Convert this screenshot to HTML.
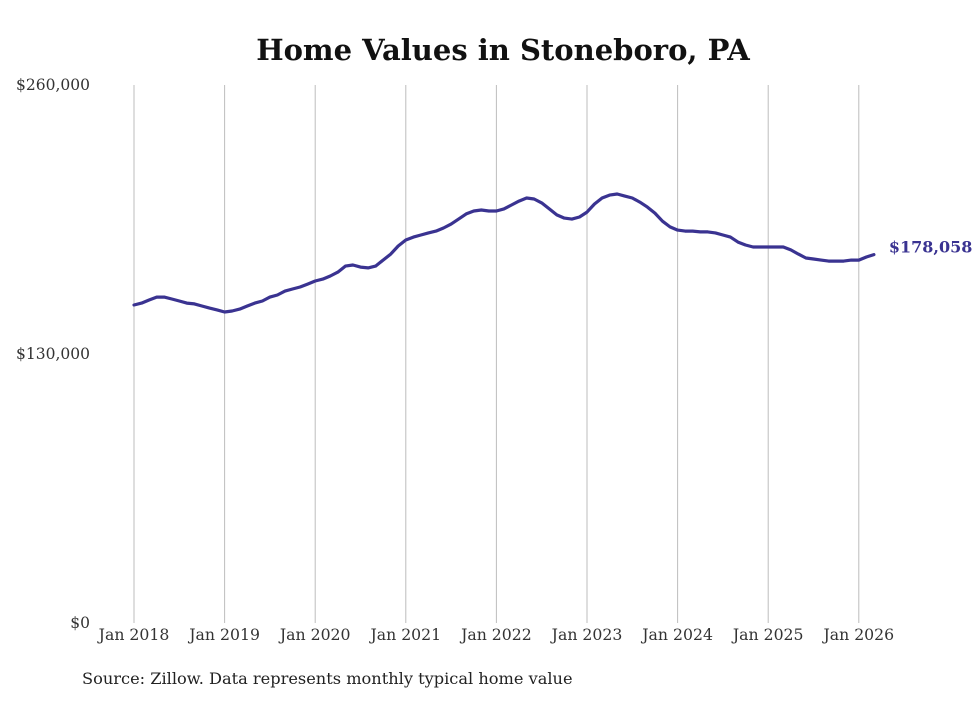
<!DOCTYPE html>
<html><head><meta charset="utf-8"><style>
body{margin:0;background:#fff;}
svg text{font-family:"DejaVu Serif","Liberation Serif",serif;}
</style></head><body>
<svg id="chart" width="980" height="699" xmlns="http://www.w3.org/2000/svg">
<rect width="980" height="699" fill="#fff"/>
<text x="503" y="60" text-anchor="middle" font-size="29" font-weight="bold" fill="#111">Home Values in Stoneboro, PA</text>
<g id="grid"></g><g id="yticks"></g><g id="xticks"></g><g id="series"></g>
<text x="82" y="684" font-size="16.2" fill="#222">Source: Zillow. Data represents monthly typical home value</text>
</svg>
<script>
const yTickValues=[0,130000,260000];
const yTickLabels=["$0","$130,000","$260,000"];
const xTickYears=[2018,2019,2020,2021,2022,2023,2024,2025,2026];
const xTickLabels=["Jan 2018","Jan 2019","Jan 2020","Jan 2021","Jan 2022","Jan 2023","Jan 2024","Jan 2025","Jan 2026"];
const startYear=2018;
// monthly values (thousands of $), Jan 2018 - Mar 2026
const values=[
153.7,154.6,156.1,157.5,157.5,156.6,155.6,154.6,154.2,153.2,152.2,151.3,
150.3,150.8,151.7,153.2,154.6,155.6,157.5,158.5,160.4,161.4,162.4,163.8,
165.3,166.2,167.7,169.6,172.5,173.0,172.0,171.6,172.5,175.4,178.3,182.2,
185.1,186.5,187.5,188.5,189.4,190.9,192.8,195.2,197.7,199.1,199.6,199.1,
199.1,200.1,202.0,203.9,205.4,204.9,203.0,200.1,197.2,195.7,195.2,196.2,
198.6,202.5,205.4,206.8,207.3,206.3,205.4,203.4,201.0,198.1,194.2,191.4,
189.9,189.4,189.4,189.0,189.0,188.5,187.5,186.5,184.1,182.7,181.7,181.7,
181.7,181.7,181.7,180.3,178.3,176.4,175.9,175.4,174.9,174.9,174.9,175.4,
175.4,176.9,178.058];
const lastLabel="$178,058";
const ns="http://www.w3.org/2000/svg";
const X0=134,YW=90.6,Y0=623,YH=85,YMAX=260000;
const xs=m=>X0+m/12*YW;
const ys=v=>Y0-(v/YMAX)*(Y0-YH);
function mk(tag,attrs,parent){const e=document.createElementNS(ns,tag);for(const k in attrs)e.setAttribute(k,attrs[k]);parent.appendChild(e);return e;}
const grid=document.getElementById('grid'),yt=document.getElementById('yticks'),xt=document.getElementById('xticks'),se=document.getElementById('series');
xTickYears.forEach((yr,i)=>{
  const x=xs((yr-startYear)*12);
  const l=mk('line',{x1:x,x2:x,y1:YH,y2:Y0,stroke:'#bdbdbd','stroke-width':1},grid);
  
  
  const t=mk('text',{x:x,y:640,'text-anchor':'middle','font-size':15.7,fill:'#333'},xt);
  t.textContent=xTickLabels[i];
  
  
});
yTickValues.forEach((v,i)=>{
  const t=mk('text',{x:90,y:ys(v)+5,'text-anchor':'end','font-size':15.5,fill:'#333'},yt);
  t.textContent=yTickLabels[i];
  
  
});
const d=values.map((v,i)=>(i?'L':'M')+xs(i).toFixed(1)+','+ys(v*1000).toFixed(1)).join(' ');
const p=mk('path',{d:d,fill:'none',stroke:'#3a3391','stroke-width':3.2,'stroke-linejoin':'round','stroke-linecap':'round'},se);


const li=values.length-1;
const lt=mk('text',{x:xs(li)+15,y:ys(values[li]*1000)-2,'font-size':16,'font-weight':'bold',fill:'#3a3391'},se);
lt.textContent=lastLabel;


</script>
</body></html>
